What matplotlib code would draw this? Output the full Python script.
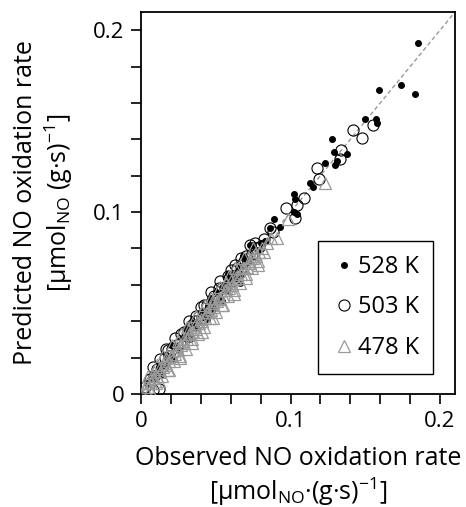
import matplotlib.pyplot as plt
from matplotlib.ticker import MultipleLocator

plt.rcParams['font.family'] = ['Open Sans', 'DejaVu Sans']
plt.rcParams['mathtext.default'] = 'regular'

# ---------------- DATA ----------------

# 528 K, filled dots
x528 = [0.004,0.007,0.010,0.012,0.015,0.018,0.020,0.023,0.025,0.028,0.030,0.032,
        0.035,0.037,0.040,0.042,0.045,0.047,0.050,0.052,0.055,0.057,0.060,0.062,
        0.065,0.067,0.070,0.072,0.075,0.078,0.080,0.083,0.086,0.089,
        0.014,0.022,0.033,0.044,0.054,0.066,0.073,
        0.020,0.030,0.046,0.058,0.068,
        0.093,0.102,0.103,0.102,0.104,0.113,0.115,0.123,0.130,0.131,0.129,0.138,
        0.128,0.150,0.157,0.158,0.159,0.174,0.183,0.185]
y528 = [0.006,0.008,0.011,0.015,0.016,0.020,0.021,0.026,0.025,0.031,0.032,0.034,
        0.039,0.037,0.045,0.043,0.049,0.047,0.056,0.053,0.058,0.057,0.064,0.063,
        0.070,0.066,0.074,0.073,0.082,0.079,0.083,0.084,0.091,0.096,
        0.011,0.019,0.030,0.041,0.051,0.061,0.082,
        0.027,0.036,0.053,0.066,0.076,
        0.092,0.110,0.107,0.100,0.099,0.116,0.114,0.127,0.126,0.128,0.133,0.132,
        0.140,0.151,0.151,0.149,0.167,0.170,0.165,0.193]

# 503 K, open circles
x503 = [0.003,0.006,0.008,0.009,0.011,0.012,0.014,0.016,0.019,0.021,0.024,0.026,
        0.029,0.031,0.034,0.036,0.039,0.041,0.044,0.046,0.049,0.051,0.054,0.056,
        0.059,0.061,0.064,0.066,0.069,0.071,0.074,0.077,0.079,0.082,
        0.013,0.018,0.027,0.037,0.042,0.052,0.058,0.063,0.070,0.076,
        0.008,0.017,0.023,0.032,0.040,0.047,0.053,0.060,0.067,0.073,
        0.086,0.088,0.097,0.103,0.104,0.109,0.119,0.118,0.133,0.134,0.142,0.148,0.155]
y503 = [0.004,0.008,0.002,0.010,0.014,0.003,0.015,0.020,0.021,0.025,0.027,0.028,
        0.034,0.032,0.038,0.040,0.043,0.042,0.049,0.047,0.054,0.053,0.058,0.058,
        0.064,0.062,0.069,0.067,0.073,0.074,0.077,0.080,0.081,0.085,
        0.019,0.024,0.033,0.043,0.049,0.058,0.065,0.071,0.076,0.083,
        0.015,0.025,0.031,0.040,0.048,0.056,0.062,0.068,0.075,0.082,
        0.091,0.089,0.102,0.097,0.104,0.108,0.118,0.124,0.129,0.134,0.145,0.141,0.148]

# 478 K, open triangles
x478 = [0.003,0.005,0.007,0.009,0.011,0.013,0.015,0.017,0.019,0.021,0.023,0.025,
        0.027,0.029,0.031,0.033,0.035,0.037,0.039,0.041,0.043,0.045,0.047,0.049,
        0.051,0.053,0.055,0.057,0.059,0.061,0.063,0.065,0.067,0.069,0.071,0.073,
        0.075,0.077,0.079,0.081,0.084,0.087,0.091,0.098,0.123,
        0.004,0.008,0.012,0.016,0.020,0.024,0.028,0.032,0.036,0.040,0.044,0.048,
        0.052,0.056,0.060,0.064,0.068,0.072,0.076,
        0.006,0.010,0.014,0.018,0.022,0.026,0.030,0.034,0.038,0.042,0.046,0.050,
        0.054,0.058,0.062,0.066,0.070,0.074,0.078,0.082,
        0.009,0.017,0.025,0.033,0.041,0.049,0.057,0.065,
        0.005,0.011,0.015,0.021,0.027,0.031,0.037,0.043,0.047,0.053,0.059,0.063,
        0.069,0.075,
        0.012,0.019,0.026,0.034,0.041,0.048,0.055,0.062,0.070,0.078]
y478 = [0.003,0.004,0.006,0.009,0.010,0.012,0.015,0.016,0.018,0.021,0.022,0.024,
        0.027,0.028,0.030,0.033,0.034,0.036,0.039,0.040,0.042,0.045,0.046,0.048,
        0.051,0.052,0.054,0.057,0.058,0.060,0.063,0.064,0.066,0.069,0.070,0.072,
        0.075,0.076,0.078,0.080,0.083,0.086,0.086,0.096,0.116,
        0.006,0.009,0.014,0.017,0.021,0.026,0.029,0.033,0.038,0.041,0.045,0.050,
        0.053,0.057,0.062,0.065,0.069,0.073,0.077,
        0.002,0.006,0.010,0.013,0.018,0.021,0.025,0.030,0.033,0.037,0.042,0.045,
        0.049,0.054,0.057,0.061,0.066,0.069,0.073,0.078,
        0.012,0.020,0.029,0.037,0.045,0.053,0.061,0.069,
        0.010,0.016,0.021,0.027,0.033,0.037,0.043,0.049,0.053,0.059,0.065,0.069,
        0.075,0.080,
        0.007,0.013,0.020,0.028,0.034,0.042,0.049,0.055,0.064,0.071]

lim = 0.21

# ---------------- PLOT ----------------

fig = plt.figure(figsize=(4.66, 5.07), dpi=100)
ax = fig.add_axes([0.3026, 0.2229, 0.6738, 0.7534])

ax.plot([0, lim], [0, lim], ls=(0, (3, 2)), color='#999999', lw=1, zorder=1)

ax.plot(x528, y528, 'o', ms=4, mfc='black', mec='black', label='528 K', zorder=2)
ax.plot(x503, y503, 'o', ms=8, mfc='none', mec='black', mew=0.8, label='503 K', zorder=3)
ax.plot(x478, y478, '^', ms=8, mfc='none', mec='#999999', mew=0.9, label='478 K', zorder=4)

ax.set_xlim(0, lim)
ax.set_ylim(0, lim)
ax.xaxis.set_major_locator(MultipleLocator(0.1))
ax.yaxis.set_major_locator(MultipleLocator(0.1))
ax.xaxis.set_minor_locator(MultipleLocator(0.02))
ax.yaxis.set_minor_locator(MultipleLocator(0.02))
ax.xaxis.set_major_formatter(lambda v, p: '0' if v == 0 else f'{v:.1f}')
ax.yaxis.set_major_formatter(lambda v, p: '0' if v == 0 else f'{v:.1f}')
ax.tick_params(which='both', direction='out', width=1.2, length=7, labelsize=16, pad=5)
for s in ax.spines.values():
    s.set_linewidth(1.3)

ax.set_xlabel('Observed NO oxidation rate\n[µmol$_{NO}$·(g·s)$^{-1}$]', fontsize=18,
              linespacing=1.2, labelpad=10)
ax.set_ylabel('Predicted NO oxidation rate\n[µmol$_{NO}$ (g·s)$^{-1}$]', fontsize=18,
              linespacing=1.2, labelpad=13)

leg = ax.legend(loc='lower right', bbox_to_anchor=(0.93, 0.052), fontsize=17,
                fancybox=False, edgecolor='black', framealpha=1, handletextpad=0.1,
                handlelength=1.0, labelspacing=0.7, borderpad=0.6, borderaxespad=0)
leg.get_frame().set_linewidth(1.0)

fig.savefig('out.png', dpi=100)
